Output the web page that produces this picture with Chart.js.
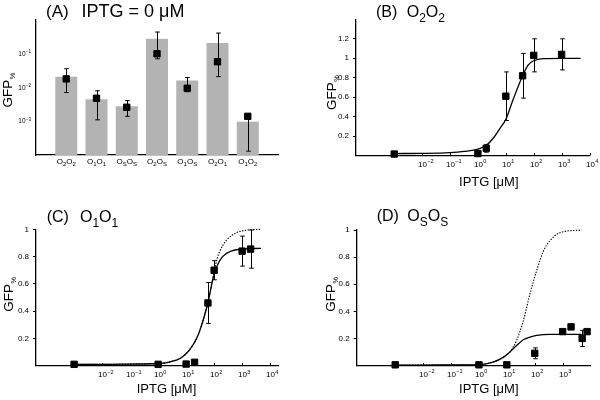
<!DOCTYPE html>
<html><head><meta charset="utf-8">
<script src="https://cdn.jsdelivr.net/npm/chart.js@4.4.1/dist/chart.umd.min.js"></script>
<style>
html,body{margin:0;padding:0;background:#fff;}
#wrap{position:relative;width:600px;height:400px;background:#fff;}
.p{position:absolute;width:300px;height:200px;}
canvas{display:block;}
</style></head><body>
<div id="wrap">
<div class="p" style="left:0;top:0"><canvas id="cA" width="300" height="200"></canvas></div>
<div class="p" style="left:300px;top:0"><canvas id="cB" width="300" height="200"></canvas></div>
<div class="p" style="left:0;top:200px"><canvas id="cC" width="300" height="200"></canvas></div>
<div class="p" style="left:300px;top:200px"><canvas id="cD" width="300" height="200"></canvas></div>
</div>
<script>
// ---------- DATA ----------
// Panel A: IPTG = 0 uM
const categories = ['O2O2','O1O1','OSOS','O2OS','O1OS','O2O1','O1O2'];
const barA  = [0.021, 0.0045, 0.0028, 0.28, 0.016, 0.21, 0.00097];
const meanA = [0.018, 0.0048, 0.0026, 0.10, 0.0095, 0.058, 0.0014];
const loA   = [0.0071, 0.0011, 0.0014, 0.071, 0.0075, 0.021, 0.00013];
const hiA   = [0.036, 0.008, 0.0041, 0.44, 0.0197, 0.41, 0.0014];
const yTicksA = [-1, -2, -3];

// Panel B: O2O2
const ipB  = [0.001, 1, 2, 10, 40, 100, 1000];
const gfpB = [0.015, 0.02, 0.074, 0.61, 0.82, 1.03, 1.04];
const errB = [0, 0, 0.04, 0.25, 0.23, 0.17, 0.16];
const fitBx = [0.001, 0.01, 0.1, 0.316, 1, 2, 3.6, 6.2, 10, 18, 40, 63, 100, 220, 1000, 4800];
const fitBy = [0.02, 0.022, 0.03, 0.042, 0.065, 0.105, 0.18, 0.28, 0.37, 0.57, 0.82, 0.93, 0.975, 0.997, 1.0, 1.0];

// Panel C: O1O1
const ipC  = [0.001, 1, 10, 20, 60, 100, 1000, 2000];
const gfpC = [0.01, 0.01, 0.012, 0.025, 0.46, 0.70, 0.84, 0.855];
const errC = [0, 0, 0, 0, 0.15, 0.07, 0.11, 0.14];
const fitCx = [0.001, 0.01, 0.1, 1, 2.5, 6.3, 12.6, 25, 40, 63, 89, 126, 200, 400, 1000, 4700];
const fitCy = [0.01, 0.01, 0.012, 0.016, 0.027, 0.055, 0.11, 0.21, 0.33, 0.48, 0.63, 0.73, 0.8, 0.84, 0.855, 0.86];
const dotCx = [0.001, 0.01, 0.1, 1, 2.5, 6.3, 12.6, 25, 40, 63, 89, 126, 160, 275, 630, 1600, 4700];
const dotCy = [0.01, 0.01, 0.012, 0.016, 0.027, 0.055, 0.11, 0.21, 0.33, 0.48, 0.64, 0.78, 0.84, 0.92, 0.975, 0.995, 1.0];

// Panel D: OSOS
const ipD  = [0.001, 1, 10, 100, 1000, 2000, 5000, 7500];
const gfpD = [0.005, 0.005, 0.005, 0.09, 0.25, 0.285, 0.20, 0.25];
const errD = [0, 0, 0, 0.04, 0, 0, 0.06, 0];
const fitDx = [0.001, 0.01, 0.1, 1, 3.2, 7.4, 12.9, 22.4, 38.9, 67.6, 117, 347, 4800];
const fitDy = [0.003, 0.003, 0.004, 0.007, 0.025, 0.06, 0.1, 0.148, 0.19, 0.21, 0.222, 0.23, 0.23];
const dotDx = [0.001, 0.01, 0.1, 1, 3.2, 7.4, 12.9, 22.4, 38.9, 67.6, 117, 200, 347, 794, 4800];
const dotDy = [0.003, 0.003, 0.004, 0.007, 0.025, 0.06, 0.1, 0.185, 0.33, 0.53, 0.70, 0.84, 0.92, 0.98, 1.0];

const xDecades = [-2, -1, 0, 1, 2, 3, 4];

// ---------- HELPERS ----------
const FONT = "'Liberation Sans', Arial, Helvetica, sans-serif";
const font = s => s + 'px ' + FONT;
const INK = '#000';
const YW = 30; // reserved width of the y scale box

function drawRich(ctx, str, x, y, size, subSize, drop, align) {
  const parts = [];
  for (let i = 0; i < str.length; i++) {
    const c = str[i];
    const sub = i > 0 && str[i-1] === 'O' && /[0-9S]/.test(c);
    parts.push({c, sub});
  }
  let w = 0;
  for (const p of parts) { ctx.font = font(p.sub ? subSize : size); p.w = ctx.measureText(p.c).width; w += p.w; }
  let cx = align === 'center' ? x - w / 2 : x;
  ctx.textAlign = 'left'; ctx.textBaseline = 'alphabetic'; ctx.fillStyle = INK;
  for (const p of parts) {
    ctx.font = font(p.sub ? subSize : size);
    ctx.fillText(p.c, cx, y + (p.sub ? drop : 0));
    cx += p.w;
  }
}
function drawPow(ctx, e, x, y, size, eSize, raise, align) {
  const es = e < 0 ? '\u2212' + (-e) : String(e);
  ctx.font = font(size); const w1 = ctx.measureText('10').width;
  ctx.font = font(eSize); const w2 = ctx.measureText(es).width;
  const x0 = align === 'center' ? x - w1 / 2 : (align === 'right' ? x - w1 - w2 - 0.3 : x);
  ctx.textAlign = 'left'; ctx.fillStyle = INK;
  ctx.font = font(size); ctx.fillText('10', x0, y);
  ctx.font = font(eSize); ctx.fillText(es, x0 + w1 + 0.3, y - raise);
}
function drawText(ctx, t, x, y, size, align) {
  ctx.font = font(size); ctx.textAlign = align || 'left'; ctx.textBaseline = 'alphabetic';
  ctx.fillStyle = INK; ctx.fillText(t, x, y);
}
function drawYTitle(ctx, x, y) {
  ctx.save();
  ctx.translate(x, y); ctx.rotate(-Math.PI / 2);
  ctx.fillStyle = INK; ctx.textAlign = 'left'; ctx.textBaseline = 'alphabetic';
  ctx.font = font(13.5); ctx.fillText('GFP', 0, 0);
  const w = ctx.measureText('GFP').width;
  ctx.font = font(7.5); ctx.fillText('%', w + 0.5, 3);
  ctx.restore();
}
function drawErr(chart, xs, lo, hi) {
  const ctx = chart.ctx, xS = chart.scales.x, yS = chart.scales.y;
  ctx.save(); ctx.strokeStyle = INK; ctx.lineWidth = 1;
  for (let i = 0; i < xs.length; i++) {
    if (lo[i] === hi[i]) continue;
    const px = Math.round(xS.getPixelForValue(xs[i])) + 0.5;
    const p1 = yS.getPixelForValue(lo[i]), p2 = yS.getPixelForValue(hi[i]);
    ctx.beginPath();
    ctx.moveTo(px, p1); ctx.lineTo(px, p2);
    ctx.moveTo(px - 2.3, p1); ctx.lineTo(px + 2.3, p1);
    ctx.moveTo(px - 2.3, p2); ctx.lineTo(px + 2.3, p2);
    ctx.stroke();
  }
  ctx.restore();
}
function xLogDeco(chart) {
  const ctx = chart.ctx, xS = chart.scales.x, a = chart.chartArea;
  ctx.save(); ctx.strokeStyle = INK; ctx.lineWidth = 1;
  for (const e of xDecades) {
    const v = Math.pow(10, e);
    if (v < xS.min || v > xS.max * 1.0001) continue;
    const px = Math.round(xS.getPixelForValue(v)) + 0.5;
    ctx.beginPath(); ctx.moveTo(px, a.bottom); ctx.lineTo(px, a.bottom - 2.5); ctx.stroke();
    drawPow(ctx, e, px, a.bottom + 11, 8, 5.5, 3.2, 'center');
  }
  ctx.restore();
}

const axisCommon = {
  grid: {display: true, drawOnChartArea: false, drawTicks: false, color: INK},
  border: {display: true, color: INK, width: 1.3}
};
function yLinear(max) {
  return {
    type: 'linear', min: 0, max: max,
    ticks: {stepSize: 0.2, color: INK, padding: 4, font: {family: FONT, size: 8},
            callback: v => String(Math.round(v * 10) / 10)},
    afterBuildTicks: s => { s.ticks = s.ticks.filter(t => (t.value > 0.01 && t.value < max - 0.1) || (max === 1 && Math.abs(t.value - 1) < 1e-6)); },
    grid: {display: true, drawOnChartArea: false, drawTicks: true, tickLength: 3, color: INK},
    border: {display: true, color: INK, width: 1.3},
    afterFit: s => { s.width = YW; }
  };
}
function xLog(minE, maxE) {
  return Object.assign({
    type: 'logarithmic', min: Math.pow(10, minE), max: Math.pow(10, maxE),
    ticks: {display: false},
    afterFit: s => { s.height = 0; }
  }, axisCommon);
}
const baseOpts = {
  responsive: false, animation: false, devicePixelRatio: 1,
  plugins: {legend: {display: false}, tooltip: {enabled: false}}
};
function pts(xs, ys) { return xs.map((x, i) => ({x, y: ys[i]})); }
function pointSet(xs, ys) {
  return {data: pts(xs, ys), showLine: false, pointStyle: 'rect', pointRadius: 4.5,
          pointBackgroundColor: INK, pointBorderColor: INK, pointBorderWidth: 1, clip: false, order: 0};
}
function curveSet(xs, ys, dotted) {
  return {data: pts(xs, ys), showLine: true, pointRadius: 0, borderColor: INK,
          borderWidth: dotted ? 1.1 : 1.3, borderDash: dotted ? [1.4, 1.4] : [],
          cubicInterpolationMode: 'monotone', fill: false, clip: false, order: dotted ? 2 : 1};
}

// ---------- PANEL A ----------
new Chart(document.getElementById('cA'), {
  type: 'bar',
  data: {
    labels: ['', ...categories, ''],
    datasets: [
      {type: 'line', data: [null, ...meanA, null], showLine: false, pointStyle: 'rect', pointRadius: 4.5,
       pointBackgroundColor: INK, pointBorderColor: INK, pointBorderWidth: 1, clip: false, order: 0},
      {type: 'bar', data: [null, ...barA, null], backgroundColor: '#b3b3b3', borderWidth: 0,
       barPercentage: 0.727, categoryPercentage: 1, order: 1}
    ]
  },
  options: Object.assign({}, baseOpts, {
    layout: {padding: {left: 36, top: 20, right: 22, bottom: 45}},
    scales: {
      x: Object.assign({type: 'category', offset: false, ticks: {display: false}, afterFit: s => { s.height = 0; }}, axisCommon),
      y: Object.assign({type: 'logarithmic', min: 1e-4, max: 1, ticks: {display: false}, afterFit: s => { s.width = 0; }}, axisCommon)
    }
  }),
  plugins: [{
    id: 'decoA',
    afterDatasetsDraw(chart) {
      drawErr(chart, categories.map((c, i) => i + 1), loA, hiA);
    },
    afterDraw(chart) {
      const ctx = chart.ctx, a = chart.chartArea, xS = chart.scales.x, yS = chart.scales.y;
      categories.forEach((c, i) => drawRich(ctx, c, xS.getPixelForValue(i + 1), a.bottom + 8.5, 8, 6, 2, 'center'));
      yTicksA.forEach(e => drawPow(ctx, e, a.left - 5, yS.getPixelForValue(Math.pow(10, e)) + 2, 6.5, 4.5, 2.5, 'right'));
      drawYTitle(ctx, 11.5, 107.5);
      drawText(ctx, '(A)', 46, 17, 17);
      drawText(ctx, 'IPTG = 0 \u03bcM', 81.5, 17, 18);
    }
  }]
});

// ---------- PANELS B-D ----------
function curvePanel(id, title, datasets, xr, yMax, pad, errXs, errLo, errHi, t) {
  new Chart(document.getElementById(id), {
    type: 'line',
    data: {datasets: datasets},
    options: Object.assign({}, baseOpts, {
      layout: {padding: pad},
      scales: {x: xLog(xr[0], xr[1]), y: yLinear(yMax)}
    }),
    plugins: [{
      id: 'deco' + id,
      afterDatasetsDraw(chart) { drawErr(chart, errXs, errLo, errHi); },
      afterDraw(chart) {
        const ctx = chart.ctx;
        xLogDeco(chart);
        drawYTitle(ctx, t.yt[0], t.yt[1]);
        drawText(ctx, 'IPTG [\u03bcM]', t.xt[0], t.xt[1], 13, 'center');
        drawText(ctx, t.letter, t.tl[0], t.tl[1], 16);
        drawRich(ctx, title, t.tn[0], t.tn[1], 16, 12, 5, 'left');
      }
    }]
  });
}
const lo = (y, e) => y.map((v, i) => v - e[i]);
const hi = (y, e) => y.map((v, i) => v + e[i]);

curvePanel('cB', 'O2O2',
  [pointSet(ipB, gfpB), curveSet(fitBx, fitBy, false)],
  [-4.37, 4.0], 1.4, {left: 56 - YW, top: 19.4, right: 10.5, bottom: 44.5},
  ipB, lo(gfpB, errB), hi(gfpB, errB),
  {yt: [35.5, 110], xt: [188.8, 186], tl: [76, 17.3], tn: [106.7, 17.3], letter: '(B)'});

curvePanel('cC', 'O1O1',
  [pointSet(ipC, gfpC), curveSet(fitCx, fitCy, false), curveSet(dotCx, dotCy, true)],
  [-4.36, 4.28], 1, {left: 36 - YW, top: 29.3, right: 22, bottom: 34.3},
  ipC, lo(gfpC, errC), hi(gfpC, errC),
  {yt: [13.3, 111.7], xt: [166.5, 193], tl: [46.7, 21.7], tn: [80, 21.7], letter: '(C)'});

curvePanel('cD', 'OSOS',
  [pointSet(ipD, gfpD), curveSet(fitDx, fitDy, false), curveSet(dotDx, dotDy, true)],
  [-4.38, 3.98], 1, {left: 56.7 - YW, top: 30, right: 10, bottom: 34.5},
  ipD, lo(gfpD, errD), hi(gfpD, errD),
  {yt: [35, 111.7], xt: [188.8, 193], tl: [76.7, 20.7], tn: [107.3, 20.7], letter: '(D)'});
</script>
</body></html>
